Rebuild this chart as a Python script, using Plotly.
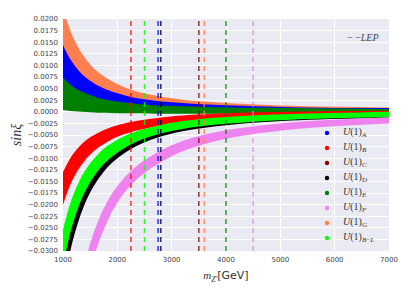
import plotly.graph_objects as go

# Z' mass grid (GeV)
m_grid = [1000, 1100, 1200, 1350, 1500, 1650, 1800, 2000, 2300, 2700, 3200, 4000, 5200, 7000]

# band edges (sin xi)
G_hi = [0.0224, 0.0186, 0.0157, 0.0125, 0.0102, 0.0085, 0.0073, 0.0060, 0.0046, 0.0035, 0.0026, 0.0019, 0.0013, 0.00095]
G_lo = [0.0055, 0.0045, 0.0037, 0.0028, 0.0022, 0.0017, 0.0014, 0.0010, 0.0006, 0.0003, 0.0001, -0.0001, -0.0003, -0.0004]
A_hi = [0.0144, 0.0120, 0.0102, 0.0081, 0.0067, 0.0056, 0.0048, 0.0040, 0.0031, 0.0024, 0.0019, 0.0014, 0.0010, 0.0008]
A_lo = [0.0055, 0.0045, 0.0037, 0.0028, 0.0022, 0.0017, 0.0014, 0.0010, 0.0006, 0.0003, 0.0001, -0.0001, -0.0003, -0.0004]
E_hi = [0.0074, 0.0062, 0.0053, 0.0043, 0.0036, 0.0030, 0.0026, 0.0022, 0.0018, 0.0014, 0.0012, 0.0009, 0.0008, 0.0006]
E_lo = [0.0004, 0.0002, 0.0001, 0.0000, -0.0001, -0.0002, -0.0002, -0.0003, -0.0003, -0.0004, -0.0004, -0.0004, -0.0005, -0.0005]
B_hi = [-0.0130, -0.0107, -0.0089, -0.0069, -0.0055, -0.0045, -0.0037, -0.0029, -0.0021, -0.0014, -0.0008, -0.0003, 0.0000, 0.0002]
B_lo = [-0.0201, -0.0167, -0.0141, -0.0113, -0.0092, -0.0077, -0.0066, -0.0054, -0.0042, -0.0032, -0.0024, -0.0017, -0.0012, -0.0009]
D_hi = [-0.0295, -0.0243, -0.0203, -0.0160, -0.0128, -0.0105, -0.0088, -0.0070, -0.0052, -0.0036, -0.0024, -0.0014, -0.0006, -0.0001]
D_lo = [-0.0385, -0.0319, -0.0269, -0.0214, -0.0174, -0.0145, -0.0122, -0.0100, -0.0077, -0.0057, -0.0042, -0.0029, -0.0019, -0.0013]
BL_hi = [-0.0255, -0.0210, -0.0176, -0.0138, -0.0111, -0.0091, -0.0075, -0.0060, -0.0044, -0.0031, -0.0020, -0.0011, -0.0005, 0.0000]
BL_lo = [-0.0335, -0.0278, -0.0234, -0.0186, -0.0152, -0.0126, -0.0107, -0.0088, -0.0067, -0.0050, -0.0037, -0.0026, -0.0017, -0.0012]
F_hi = [-0.0640, -0.0530, -0.0444, -0.0351, -0.0284, -0.0234, -0.0197, -0.0160, -0.0122, -0.0090, -0.0063, -0.0040, -0.0023, -0.0012]
F_lo = [-0.0757, -0.0628, -0.0529, -0.0420, -0.0342, -0.0284, -0.0240, -0.0196, -0.0152, -0.0116, -0.0085, -0.0058, -0.0038, -0.0025]

# legend models and colours
models = ["A", "B", "C", "D", "E", "F", "G", "B−L"]
colors = ["#0000FF", "#FF0000", "#8B0000", "#000000", "#008000", "#EE82EE", "#FF7F50", "#00FF00"]

# LEP lower bounds on m_Z' (GeV)
lep_models = ["B", "B−L", "A", "D", "C", "G", "E", "F"]
lep_bounds = [2250, 2500, 2750, 2800, 3500, 3600, 4000, 4500]

col = dict(zip(models, colors))
bands = [("G", G_lo, G_hi), ("A", A_lo, A_hi), ("E", E_lo, E_hi),
         ("B", B_lo, B_hi), ("D", D_lo, D_hi), ("B−L", BL_lo, BL_hi), ("F", F_lo, F_hi)]

fig = go.Figure()
for name, lo, hi in bands:
    fig.add_trace(go.Scatter(x=m_grid, y=lo, mode="lines", line=dict(width=0, shape="spline"),
                             showlegend=False, hoverinfo="skip"))
    fig.add_trace(go.Scatter(x=m_grid, y=hi, mode="lines", line=dict(width=0, shape="spline"),
                             fill="tonexty", fillcolor=col[name], showlegend=False, hoverinfo="skip"))

for name, xb in zip(lep_models, lep_bounds):
    fig.add_trace(go.Scatter(x=[xb, xb], y=[-0.03, 0.02], mode="lines",
                             line=dict(color=col[name], width=1.5, dash="5px,4px"),
                             opacity=0.8, showlegend=False, hoverinfo="skip"))

def label(s):
    if s == "B−L":
        sub = "<i>B</i>−<i>L</i>"
    else:
        sub = "<i>%s</i>" % s
    return "<i>U</i>(1)<sub>%s</sub>" % sub

# manual legend (pixel geometry of the plot area: left 63, width 326, bottom 251, height 232)
L, W, B, H = 63, 326, 251, 232
mk_x, tx_x, row0, step = 327, 341, 133, 15
for i, (name, c) in enumerate(zip(models, colors)):
    py = row0 + step * i
    cx, cy = (mk_x - L) / W, (B - py) / H
    rx, ry = 2.2 / W, 2.2 / H
    fig.add_shape(type="circle", xref="paper", yref="paper",
                  x0=cx - rx, x1=cx + rx, y0=cy - ry, y1=cy + ry,
                  fillcolor=c, line=dict(width=0))
    fig.add_annotation(x=(tx_x - L) / W, y=(B - py + 1) / H, xref="paper", yref="paper",
                       xanchor="left", yanchor="middle", text=label(name), showarrow=False,
                       font=dict(family="Liberation Serif", size=10, color="#333"))

fig.add_annotation(x=(381 - L) / W, y=(B - 38) / H, xref="paper", yref="paper",
                   xanchor="right", yanchor="middle",
                   text="− −<i>LEP</i>", showarrow=False,
                   font=dict(family="Liberation Serif", size=10, color="#444"))

fig.update_layout(
    width=415, height=294,
    margin=dict(l=63, r=26, t=19, b=43, autoexpand=False),
    paper_bgcolor="white", plot_bgcolor="#EAEAF2",
    font=dict(family="DejaVu Sans", size=7, color="#444"),
    showlegend=False,
    xaxis=dict(range=[1000, 7000], tickvals=[1000, 2000, 3000, 4000, 5000, 6000, 7000],
               showgrid=True, gridcolor="white", gridwidth=1, zeroline=False, showline=False,
               ticks="", ticklabelstandoff=3, automargin=False,
               title=dict(text="<i>m</i><sub><i>Z'</i></sub><span style='font-family:DejaVu Sans'>[GeV]</span>",
                          font=dict(family="Liberation Serif", size=11, color="#333"), standoff=8)),
    yaxis=dict(range=[-0.03, 0.02], dtick=0.0025, tick0=0, tickformat=".4f",
               showgrid=True, gridcolor="white", gridwidth=1, zeroline=False, showline=False,
               ticks="", ticklabelstandoff=4, automargin=False,
               title=dict(text="<i>sinξ</i>", font=dict(family="Liberation Serif", size=14, color="#333"),
                          standoff=2)),
)

fig.write_html("out.html", config={"displayModeBar": False},
               post_script="document.body.style.margin='0';")
